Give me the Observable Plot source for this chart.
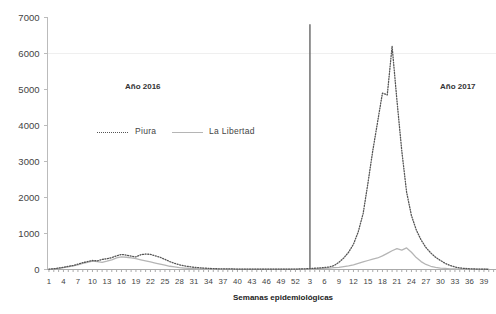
<!DOCTYPE html>
<html>
<head>
<meta charset="utf-8">
<script src="https://cdn.jsdelivr.net/npm/d3@7"></script>
<script src="https://cdn.jsdelivr.net/npm/@observablehq/plot@0.6"></script>
<style>
  body { margin: 0; background: #fff; }
  #wrap { position: relative; width: 496px; height: 314px; font-family: "Liberation Sans", Arial, sans-serif; }
  .ann { position: absolute; white-space: nowrap; color: #333; }
  .year { font-weight: bold; font-size: 8px; }
  .leg { font-size: 8.5px; color: #444; letter-spacing: 0.3px; }
  .sw { position: absolute; width: 31px; height: 0; }
  .xlabel { font-weight: bold; font-size: 8px; color: #222; }
</style>
</head>
<body>
<div id="wrap"></div>
<script>
// Weekly values (epidemiological weeks)
const weeks2016 = [1,2,3,4,5,6,7,8,9,10,11,12,13,14,15,16,17,18,19,20,21,22,23,24,25,26,27,28,29,30,31,32,33,34,35,36,37,38,39,40,41,42,43,44,45,46,47,48,49,50,51,52];
const weeks2017 = [1,2,3,4,5,6,7,8,9,10,11,12,13,14,15,16,17,18,19,20,21,22,23,24,25,26,27,28,29,30,31,32,33,34,35,36,37,38,39,40];

const piura2016 = [10,20,40,60,90,110,150,190,220,250,240,280,300,330,380,420,400,370,350,410,430,420,380,340,280,220,170,130,100,80,60,50,40,30,25,20,20,15,15,10,10,10,10,10,10,8,8,8,8,10,10,12];
const libertad2016 = [5,15,30,50,70,100,130,170,200,230,220,200,230,270,320,350,340,320,300,270,240,210,180,150,120,90,70,50,40,30,25,20,15,12,10,10,10,8,8,8,8,8,8,8,8,8,8,8,8,8,8,10];
const piura2017 = [15,20,25,35,45,55,70,110,200,320,480,700,1050,1550,2400,3300,4100,4900,4850,6200,4700,3300,2150,1500,1100,820,610,460,340,250,170,110,70,45,30,20,15,10,8,5];
const libertad2017 = [10,10,15,20,25,30,40,50,60,80,100,130,170,210,250,290,320,380,450,520,580,540,600,480,330,220,140,90,60,40,30,20,15,12,10,8,8,8,8,8];

const xTickLabels = ["1","4","7","10","13","16","19","22","25","28","31","34","37","40","43","46","49","52","3","6","9","12","15","18","21","24","27","30","33","36","39"];
const yTicks = [0,1000,2000,3000,4000,5000,6000,7000];
const gridLines = [6000];
const dividerWeek = {year: 2017, week: 3};
const dividerTop = 6800;

// Build a continuous week index across both years
const rows = [];
weeks2016.forEach((w, i) => {
  rows.push({idx: i, year: 2016, week: w, series: "Piura", value: piura2016[i]});
  rows.push({idx: i, year: 2016, week: w, series: "La Libertad", value: libertad2016[i]});
});
weeks2017.forEach((w, i) => {
  const idx = weeks2016.length + i;
  rows.push({idx, year: 2017, week: w, series: "Piura", value: piura2017[i]});
  rows.push({idx, year: 2017, week: w, series: "La Libertad", value: libertad2017[i]});
});
const allIdx = [...new Set(rows.map(d => d.idx))];
const extraIdx = [allIdx.length];
const labelIdx = xTickLabels.map((_, k) => k * 3);
const labelMap = new Map(labelIdx.map((v, k) => [v, xTickLabels[k]]));
const dividerIdx = weeks2016.length + weeks2017.indexOf(dividerWeek.week);
const xDomain = [-0.3, allIdx.length + 0.6];

const chart = Plot.plot({
  width: 496,
  height: 314,
  marginTop: 17,
  marginBottom: 45,
  marginLeft: 47,
  marginRight: 0,
  style: {fontFamily: "Liberation Sans, Arial, sans-serif", background: "#fff"},
  x: {domain: xDomain},
  y: {domain: [0, 7000]},
  marks: [
    Plot.ruleY(gridLines, {stroke: "#efefef", strokeWidth: 1}),
    Plot.ruleX([xDomain[0]], {stroke: "#bbb", strokeWidth: 1}),
    Plot.ruleY([0], {stroke: "#aaa", strokeWidth: 1}),
    Plot.axisY({ticks: yTicks, tickSize: 3, tickFormat: d => String(d), fontSize: 9.5, stroke: "#bbb", fill: "#444", tickPadding: 5, label: null}),
    Plot.axisX({ticks: allIdx.concat(extraIdx), tickSize: 3, tickFormat: () => "", stroke: "#aaa", label: null}),
    Plot.axisX({ticks: labelIdx, tickSize: 0, tickPadding: 9, tickFormat: d => labelMap.get(d), fontSize: 7.8, fill: "#444", label: null}),
    Plot.line(rows.filter(d => d.series === "La Libertad"), {x: "idx", y: "value", stroke: "#b5b5b5", strokeWidth: 1.3, curve: "linear"}),
    Plot.line(rows.filter(d => d.series === "Piura"), {x: "idx", y: "value", stroke: "#555", strokeWidth: 1.3, strokeDasharray: "1,1.6", curve: "linear"}),
    Plot.ruleX([dividerIdx], {y1: 0, y2: dividerTop, stroke: "#666", strokeWidth: 1.4})
  ]
});

const wrap = document.getElementById("wrap");
wrap.appendChild(chart);

function addDiv(cls, html, css) {
  const el = document.createElement("div");
  el.className = cls;
  el.innerHTML = html;
  Object.assign(el.style, css);
  wrap.appendChild(el);
  return el;
}
addDiv("ann year", "Año 2016", {left: "125px", top: "82px"});
addDiv("ann year", "Año 2017", {left: "440px", top: "82px"});
addDiv("sw", "", {left: "97px", top: "132px", borderTop: "1.3px dotted #555"});
addDiv("ann leg", "Piura", {left: "135px", top: "126px"});
addDiv("sw", "", {left: "172px", top: "132px", borderTop: "1.3px solid #b5b5b5"});
addDiv("ann leg", "La Libertad", {left: "209px", top: "126px"});
addDiv("ann xlabel", "Semanas epidemiológicas", {left: "233px", top: "293px"});
</script>
</body>
</html>
